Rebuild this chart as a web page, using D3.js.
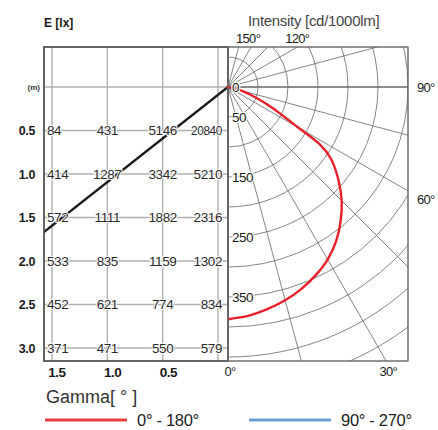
<!DOCTYPE html>
<html><head><meta charset="utf-8">
<script src="https://cdn.jsdelivr.net/npm/d3@7/dist/d3.min.js"></script>
<style>
html,body{margin:0;padding:0;background:#fff;}
text{font-family:"Liberation Sans",Arial,sans-serif;}
</style></head>
<body>
<svg id="chart" width="438" height="430"></svg>
<script>
// ---- data ----
const distances = [0.5, 1.0, 1.5, 2.0, 2.5, 3.0];
const illuminance = [
  [84, 431, 5146, 20840],
  [414, 1287, 3342, 5210],
  [572, 1111, 1882, 2316],
  [533, 835, 1159, 1302],
  [452, 621, 774, 834],
  [371, 471, 550, 579]
];
const diameterTicks = [1.5, 1.0, 0.5];
const beamDistance = [0, 1.75];
const beamDiameter = [0, 1.70];
const gammaDeg = [0, 5, 10, 15, 20, 25, 30, 35, 40, 45, 50, 55, 58, 60, 65, 70, 75, 80, 90];
const intensity0_180 = [387, 383, 376, 368, 358, 346, 332, 314, 292, 268, 240, 210, 180, 135, 80, 45, 22, 8, 0];
const radialLabels = [0, 50, 150, 250, 350];
const radialGrid = [50, 100, 150, 200, 250, 300, 350, 400, 450, 500, 550, 600];
const gammaGrid = [0, 15, 30, 45, 60, 75, 90, 105, 120, 135, 150, 165, 180];
const gammaLabels = [0, 30, 60, 90, 120, 150];
const legendItems = ["0° - 180°", "90° - 270°"];
const legendColors = ["#e8403f", "#6a9fd6"];

// ---- layout ----
const svg = d3.select("#chart");
const L = {x0: 44, x1: 228, y0: 47, y1: 361};   // left panel
const P = {x0: 228, x1: 408, y0: 47, y1: 361};  // polar panel
const cx = 228, cy = 87;

const yDist = d3.scaleLinear().domain([0, 3]).range([87, 348]);
const xDia = d3.scaleLinear().domain([0, 1.5]).range([224, 57]);
const xCol = d3.scalePoint().domain([0, 1, 2, 3]).range([52, 218]);
const rScale = d3.scaleLinear().domain([0, 350]).range([0, 210]);

// ---- left panel ----
const gl = svg.append("g");
gl.append("defs").append("clipPath").attr("id", "clipL")
  .append("rect").attr("x", L.x0).attr("y", L.y0).attr("width", L.x1 - L.x0).attr("height", L.y1 - L.y0);

gl.selectAll("line.vg").data(xCol.domain()).enter().append("line")
  .attr("x1", d => xCol(d)).attr("x2", d => xCol(d))
  .attr("y1", L.y0).attr("y2", L.y1)
  .attr("stroke", "#b0b0b0").attr("stroke-width", 1.4);
gl.selectAll("line.hg").data([0].concat(distances)).enter().append("line")
  .attr("x1", L.x0).attr("x2", L.x1)
  .attr("y1", d => yDist(d)).attr("y2", d => yDist(d))
  .attr("stroke", "#b0b0b0").attr("stroke-width", 1.4);

const beam = beamDistance.map((d, i) => [xDia(beamDiameter[i]), yDist(d)]);
beam[0][0] = cx; // beam starts at the luminaire (polar centre)
gl.append("path").attr("clip-path", "url(#clipL)")
  .attr("d", d3.line()(beam)).attr("stroke", "#1a1a1a").attr("stroke-width", 2.4).attr("fill", "none");

distances.forEach((dist, ri) => {
  illuminance[ri].forEach((v, ci) => {
    const anchor = ci === 0 ? "start" : ci === 3 ? "end" : "middle";
    const dx = ci === 0 ? -5 : ci === 3 ? 4 : 0;
    const t = gl.append("text")
      .attr("x", xCol(ci) + dx).attr("y", yDist(dist))
      .attr("dy", "0.36em").attr("text-anchor", anchor)
      .attr("font-size", 13.5).attr("fill", "#2a2a2a")
      .attr("stroke", "#fff").attr("stroke-width", 2).attr("paint-order", "stroke")
      .attr("letter-spacing", -0.4)
      .text(v);
    if (String(v).length > 4) t.attr("textLength", 31).attr("lengthAdjust", "spacingAndGlyphs");
  });
});

gl.selectAll("text.rl").data(distances).enter().append("text")
  .attr("x", 35).attr("y", d => yDist(d)).attr("dy", "0.36em")
  .attr("text-anchor", "end").attr("font-size", 12.5).attr("font-weight", "bold")
  .attr("fill", "#1a1a1a").attr("letter-spacing", -0.4)
  .text(d => d.toFixed(1));
gl.append("text").attr("x", 40).attr("y", yDist(0)).attr("dy", "0.35em")
  .attr("text-anchor", "end").attr("font-size", 8).attr("font-weight", "bold").attr("fill", "#333").text("(m)");

gl.selectAll("text.dt").data(diameterTicks).enter().append("text")
  .attr("x", d => xDia(d)).attr("y", 377)
  .attr("text-anchor", "middle").attr("font-size", 13.5).attr("font-weight", "bold")
  .attr("fill", "#1a1a1a").attr("letter-spacing", -0.5)
  .text(d => d.toFixed(1));

gl.append("rect").attr("x", L.x0).attr("y", L.y0).attr("width", L.x1 - L.x0).attr("height", L.y1 - L.y0)
  .attr("fill", "none").attr("stroke", "#555").attr("stroke-width", 1.8);

svg.append("text").attr("x", 44).attr("y", 27).attr("font-size", 12).attr("font-weight", "bold")
  .attr("fill", "#1a1a1a").text("E [lx]");

// ---- polar panel ----
const gp = svg.append("g");
gp.append("defs").append("clipPath").attr("id", "clipP")
  .append("rect").attr("x", P.x0).attr("y", P.y0).attr("width", P.x1 - P.x0).attr("height", P.y1 - P.y0);
const grid = gp.append("g").attr("clip-path", "url(#clipP)");
const toXY = (g, r) => [cx + r * Math.sin(g * Math.PI / 180), cy + r * Math.cos(g * Math.PI / 180)];

grid.selectAll("circle").data(radialGrid).enter().append("circle")
  .attr("cx", cx).attr("cy", cy).attr("r", d => rScale(d))
  .attr("fill", "none").attr("stroke", "#777").attr("stroke-width", 0.9);
grid.selectAll("line.ray").data(gammaGrid).enter().append("line")
  .attr("x1", cx).attr("y1", cy)
  .attr("x2", d => toXY(d, 500)[0]).attr("y2", d => toXY(d, 500)[1])
  .attr("stroke", d => d === 90 ? "#666" : "#777").attr("stroke-width", d => d === 90 ? 1.6 : 0.9);

const curve = d3.lineRadial().curve(d3.curveCardinal.tension(0.2))
  .angle(d => Math.PI - d[0] * Math.PI / 180).radius(d => rScale(d[1]));
gp.append("path").attr("transform", `translate(${cx},${cy})`)
  .attr("d", curve(gammaDeg.map((g, i) => [g, intensity0_180[i]])))
  .attr("fill", "none").attr("stroke", "#e8202a").attr("stroke-width", 2.4);

gp.selectAll("text.rlab").data(radialLabels).enter().append("text")
  .attr("x", cx + 4).attr("y", d => cy + rScale(d)).attr("dy", "0.36em")
  .attr("font-size", 13.5).attr("fill", "#1a1a1a")
  .attr("stroke", "#fff").attr("stroke-width", 2.5).attr("paint-order", "stroke")
  .attr("letter-spacing", -0.5)
  .text(d => d);

gp.append("circle").attr("cx", cx).attr("cy", cy).attr("r", 1.8).attr("fill", "#e8202a");

gp.append("rect").attr("x", P.x0).attr("y", P.y0).attr("width", P.x1 - P.x0).attr("height", P.y1 - P.y0)
  .attr("fill", "none").attr("stroke", "#666").attr("stroke-width", 1.4);

gammaLabels.forEach(g => {
  const s = Math.sin(g * Math.PI / 180), c = Math.cos(g * Math.PI / 180);
  const tB = c > 1e-6 ? (P.y1 - cy) / c : Infinity;
  const tR = s > 1e-6 ? (P.x1 - cx) / s : Infinity;
  const tT = c < -1e-6 ? (P.y0 - cy) / c : Infinity;
  const t = Math.min(tB, tR, tT);
  const x = cx + t * s, y = cy + t * c;
  const t2 = gp.append("text").attr("font-size", 13).attr("fill", "#1a1a1a").attr("letter-spacing", -0.7).text(g + "°");
  if (t === tR) t2.attr("x", x + 9).attr("y", y + (g === 60 ? 8 : 0)).attr("dy", "0.36em").attr("text-anchor", "start");
  else if (t === tB) t2.attr("x", x + 2).attr("y", y + 15).attr("text-anchor", "middle");
  else t2.attr("x", x - (g === 150 ? 3 : 0)).attr("y", y - 4).attr("text-anchor", "middle");
});

svg.append("text").attr("x", 248).attr("y", 26).attr("font-size", 15).attr("fill", "#444")
  .attr("letter-spacing", -0.3).text("Intensity [cd/1000lm]");

// ---- legend / axis title ----
svg.append("text").attr("x", 46).attr("y", 403).attr("font-size", 18).attr("fill", "#333").text("Gamma[ ° ]");
const legX = [45, 249];
legendItems.forEach((t, i) => {
  svg.append("line").attr("x1", legX[i]).attr("x2", legX[i] + 82).attr("y1", 420).attr("y2", 420)
    .attr("stroke", legendColors[i]).attr("stroke-width", 3);
  svg.append("text").attr("x", legX[i] + 92).attr("y", 426).attr("font-size", 16.5).attr("fill", "#222")
    .attr("letter-spacing", -0.3).text(t);
});
</script>
</body></html>
